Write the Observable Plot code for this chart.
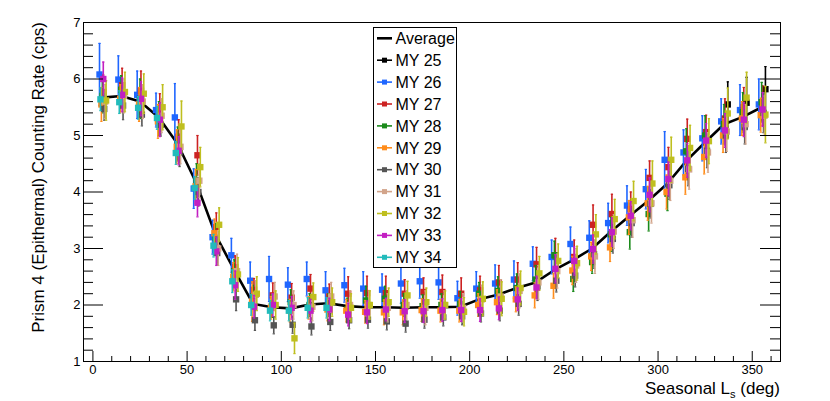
<!DOCTYPE html>
<html><head><meta charset="utf-8">
<script src="https://cdn.jsdelivr.net/npm/d3@7"></script>
<script src="https://cdn.jsdelivr.net/npm/@observablehq/plot@0.6"></script>
<style>body{margin:0;background:#fff}#chart{width:830px;height:401px}</style>
</head><body><div id="chart"></div>
<script>
// ---- data ----
const bins = [5,15,25,35,45,55,65,75,85,95,105,115,125,135,145,155,165,175,185,195,205,215,225,235,245,255,265,275,285,295,305,315,325,335,345,355];
const average = [5.67,5.70,5.60,5.32,4.85,4.15,3.25,2.62,2.02,1.96,1.94,2.01,2.03,1.98,1.96,1.96,1.95,1.96,1.96,1.97,2.10,2.18,2.30,2.40,2.62,2.80,3.00,3.30,3.58,3.85,4.15,4.55,4.88,5.20,5.33,5.50];
const seriesNames = ["MY 25","MY 26","MY 27","MY 28","MY 29","MY 30","MY 31","MY 32","MY 33","MY 34"];
const seriesColors = ["#000000","#1f66ff","#cc2222","#1b8a1b","#ff8c1a","#555555","#d2a48a","#bfbf1f","#c21fc2","#22bbbb"];
const lsOffset = [2,-1.5,0.5,0,-0.5,1,1.5,2,0.5,-1];
const N = null;
const my25 = [N,N,N,N,N,N,N,N,N,N,N,N,N,N,N,N,N,N,N,N,N,N,N,N,N,N,N,N,N,N,N,N,N,5.55,5.58,5.82];
const my26 = [6.08,5.99,5.72,5.45,5.32,4.06,3.20,2.88,2.43,2.46,2.36,2.46,2.26,2.35,2.29,2.27,2.38,2.42,2.40,2.12,2.29,2.38,2.45,2.73,2.85,3.08,3.19,3.45,3.76,4.05,4.57,4.70,4.95,5.25,5.45,5.55];
const my27 = [5.77,5.89,5.79,5.44,4.98,4.65,3.38,2.67,2.27,2.17,2.13,2.29,2.15,2.20,2.21,2.21,2.20,2.23,2.23,2.20,2.26,2.40,2.45,2.72,2.88,2.85,3.42,3.61,3.70,4.25,4.44,4.94,5.06,5.30,5.50,5.53];
const my28 = [5.70,5.81,5.65,5.30,4.85,4.20,3.19,2.60,2.15,1.98,2.05,2.00,2.00,1.92,2.08,2.11,2.00,1.98,2.00,2.02,2.20,2.25,2.30,2.45,2.88,2.46,2.76,3.25,3.29,3.61,3.97,4.72,5.00,5.20,5.41,5.59];
const my29 = [5.55,5.65,5.55,5.25,4.80,4.10,3.27,2.50,2.06,1.95,1.90,1.95,1.92,1.90,1.88,1.87,1.87,1.91,1.90,1.90,2.00,2.05,2.10,2.17,2.34,2.61,2.86,3.02,3.55,3.80,4.00,4.26,4.62,5.00,5.30,5.36];
const my30 = [5.47,5.53,5.37,5.19,4.70,4.00,2.92,2.10,1.73,1.64,1.65,1.62,1.70,1.73,1.74,1.71,1.67,1.74,1.78,1.80,1.85,1.90,2.02,2.33,2.43,2.52,2.90,3.17,3.45,3.79,4.12,4.41,4.73,5.00,5.15,5.40];
const my31 = [5.60,5.70,5.60,5.35,4.80,4.20,3.00,2.60,2.18,2.15,2.00,1.97,2.15,2.00,2.00,1.95,2.00,1.95,2.00,1.95,2.10,2.15,2.25,2.40,2.60,2.70,2.86,3.30,3.50,3.80,4.20,4.40,4.70,5.07,5.20,5.35];
const my32 = [5.62,5.77,5.74,5.50,5.16,4.44,3.42,2.54,2.20,2.00,1.41,2.14,2.05,1.95,2.00,2.05,2.17,2.05,2.00,1.88,2.11,2.11,2.30,2.56,2.78,2.74,3.25,3.52,3.84,4.15,4.57,4.78,4.90,5.39,5.67,5.37];
const my33 = [6.00,5.72,5.65,5.28,4.73,3.81,2.95,2.35,1.97,2.00,1.95,1.90,1.92,1.83,1.87,1.92,1.89,1.89,1.91,1.91,1.91,1.94,2.10,2.31,2.64,2.78,2.99,3.29,3.58,3.95,4.23,4.56,4.91,5.09,5.28,5.46];
const my34 = [5.64,5.59,5.49,5.31,4.69,4.07,3.05,2.42,2.00,1.90,1.90,1.95,1.95,N,N,N,N,N,N,N,N,N,N,N,N,N,N,N,N,N,N,N,N,N,N,N];
// error bar half-widths (cps)
const err25 = [N,N,N,N,N,N,N,N,N,N,N,N,N,N,N,N,N,N,N,N,N,N,N,N,N,N,N,N,N,N,N,N,N,0.40,0.45,0.40];
const err26 = [0.55,0.42,0.42,0.30,0.60,0.35,0.30,0.30,0.33,0.40,0.30,0.30,0.33,0.30,0.30,0.28,0.35,0.30,0.30,0.30,0.30,0.33,0.33,0.30,0.30,0.30,0.30,0.35,0.35,0.35,0.50,0.40,0.40,0.40,0.45,0.45];
const err27 = [0.30,0.30,0.35,0.30,0.30,0.35,0.25,0.20,0.20,0.22,0.25,0.25,0.22,0.30,0.30,0.30,0.25,0.25,0.30,0.28,0.25,0.30,0.30,0.30,0.30,0.30,0.35,0.35,0.30,0.30,0.35,0.35,0.30,0.35,0.35,0.35];
const err28 = [0.30,0.25,0.35,0.30,0.30,0.30,0.25,0.20,0.20,0.20,0.22,0.20,0.20,0.20,0.25,0.22,0.20,0.20,0.20,0.22,0.20,0.25,0.25,0.25,0.25,0.22,0.20,0.30,0.30,0.30,0.30,0.40,0.35,0.35,0.35,0.35];
const err29 = [0.30,0.25,0.30,0.30,0.30,0.30,0.25,0.25,0.35,0.20,0.20,0.20,0.20,0.20,0.20,0.22,0.22,0.20,0.20,0.20,0.20,0.22,0.22,0.22,0.22,0.25,0.25,0.25,0.30,0.30,0.30,0.30,0.30,0.30,0.30,0.30];
const err30 = [0.20,0.25,0.20,0.20,0.25,0.25,0.20,0.20,0.18,0.15,0.15,0.15,0.15,0.15,0.15,0.15,0.15,0.15,0.15,0.15,0.15,0.18,0.20,0.25,0.20,0.20,0.25,0.25,0.25,0.25,0.25,0.30,0.30,0.30,0.30,0.35];
const err31 = [0.30,0.30,0.30,0.30,0.30,0.30,0.30,0.30,0.25,0.25,0.25,0.25,0.25,0.25,0.25,0.25,0.25,0.30,0.25,0.25,0.25,0.30,0.30,0.30,0.30,0.30,0.30,0.30,0.30,0.35,0.35,0.35,0.35,0.35,0.35,0.35];
const err32 = [0.35,0.35,0.35,0.40,0.45,0.35,0.30,0.30,0.30,0.25,0.27,0.25,0.25,0.25,0.25,0.25,0.25,0.25,0.25,0.25,0.30,0.30,0.30,0.30,0.30,0.30,0.35,0.35,0.35,0.40,0.40,0.40,0.40,0.45,0.45,0.50];
const err33 = [0.30,0.30,0.30,0.30,0.25,0.25,0.25,0.25,0.20,0.20,0.20,0.20,0.20,0.20,0.20,0.20,0.20,0.20,0.20,0.20,0.20,0.20,0.20,0.20,0.25,0.25,0.25,0.25,0.25,0.30,0.30,0.30,0.30,0.30,0.30,0.30];
const err34 = [0.20,0.20,0.20,0.20,0.20,0.20,0.20,0.20,0.18,0.18,0.18,0.18,0.18,N,N,N,N,N,N,N,N,N,N,N,N,N,N,N,N,N,N,N,N,N,N,N];
const xTicks = [0,50,100,150,200,250,300,350];
const yTicks = [1,2,3,4,5,6,7];

// ---- build rows ----
const values = [my25,my26,my27,my28,my29,my30,my31,my32,my33,my34];
const errors = [err25,err26,err27,err28,err29,err30,err31,err32,err33,err34];
const avgRows = bins.map((b,i) => ({ls:b, v:average[i]}));
const seriesRows = values.map((arr,si) => arr.map((v,j) => v == null ? null :
  ({series: seriesNames[si], ls: bins[j] + lsOffset[si], v, e: errors[si][j]})).filter(d => d));

const W = 830, H = 401, mL = 83, mR = 50, mT = 22, mB = 40;
const pw = W - mL - mR, ph = H - mT - mB;
const FONT = "'Liberation Sans', Arial, Helvetica, sans-serif";
const cap = {draw(ctx, size){ const r = Math.sqrt(size)/2; ctx.moveTo(-r,0); ctx.lineTo(r,0); }};
const xMinor = d3.range(0, 370, 10).filter(v => v % 50 !== 0);
const yMinor = d3.range(1.2, 7, 0.2).map(v => +v.toFixed(1)).filter(v => Math.abs(v - Math.round(v)) > 1e-6);

const marks = [Plot.line(avgRows, {x:"ls", y:"v", stroke:"black", strokeWidth:2.6})];
seriesRows.forEach((rows, si) => {
  const c = seriesColors[si];
  marks.push(
    Plot.ruleX(rows, {x:"ls", y1: d => d.v - d.e, y2: d => d.v + d.e, stroke: c, strokeWidth: 1.6}),
    Plot.dot(rows, {x:"ls", y: d => d.v + d.e, symbol: cap, r: 1.3, stroke: c, strokeWidth: 1.2}),
    Plot.dot(rows, {x:"ls", y: d => d.v - d.e, symbol: cap, r: 1.3, stroke: c, strokeWidth: 1.2}),
    Plot.dot(rows, {x:"ls", y:"v", symbol:"square", r: 3.6, fill: c, stroke: "none"})
  );
});
marks.push(
  Plot.tickY(yTicks, {y: d => d, insetRight: pw - 20, stroke:"black"}),
  Plot.tickY(yMinor, {y: d => d, insetRight: pw - 10, stroke:"black"}),
  Plot.tickY(yTicks, {y: d => d, insetLeft: pw - 20, stroke:"black"}),
  Plot.tickY(yMinor, {y: d => d, insetLeft: pw - 10, stroke:"black"}),
  Plot.tickX(xTicks, {x: d => d, insetTop: ph - 10, stroke:"black"}),
  Plot.tickX(xMinor, {x: d => d, insetTop: ph - 5, stroke:"black"}),
  Plot.frame({stroke:"black", strokeWidth: 1}),
  Plot.axisY(yTicks, {tickSize: 0, tickPadding: 3, fontSize: 13, label: null, fill: "black", tickFormat: d => String(d)}),
  Plot.axisX(xTicks, {tickSize: 0, tickPadding: 3, fontSize: 13, label: null, fill: "black", tickFormat: d => String(d)})
);

const plot = Plot.plot({
  width: W, height: H, marginLeft: mL, marginRight: mR, marginTop: mT, marginBottom: mB,
  x: {domain: [-5, 365]},
  y: {domain: [1, 7]},
  style: {fontFamily: FONT, fontSize: "13px", background: "white", color: "black"},
  marks
});
document.getElementById("chart").appendChild(plot);

// ---- axis titles and legend ----
const svg = d3.select(plot);
const xt = svg.append("text").attr("x", W - mR).attr("y", 394).attr("text-anchor", "end")
  .attr("font-family", FONT).attr("font-size", 17).attr("fill", "black");
xt.append("tspan").text("Seasonal L");
xt.append("tspan").attr("font-size", 11).attr("dy", 4).text("s");
xt.append("tspan").attr("dy", -4).text(" (deg)");
svg.append("text").attr("transform", `translate(43.5,${mT}) rotate(-90)`).attr("text-anchor", "end")
  .attr("font-family", FONT).attr("font-size", 17).attr("fill", "black")
  .text("Prism 4 (Epithermal) Counting Rate (cps)");

const lg = svg.append("g").attr("font-family", FONT).attr("font-size", 16).attr("text-anchor", "start");
lg.append("rect").attr("x", 373.5).attr("y", 27.5).attr("width", 83).attr("height", 240)
  .attr("fill", "white").attr("stroke", "black").attr("stroke-width", 1);
const entries = [{name:"Average", color:"black", avg:true}].concat(seriesNames.map((n,i) => ({name:n, color:seriesColors[i]})));
entries.forEach((en, i) => {
  const y = 38.3 + i * 21.9;
  lg.append("line").attr("x1", 377).attr("x2", 392).attr("y1", y).attr("y2", y)
    .attr("stroke", en.color).attr("stroke-width", en.avg ? 2.6 : 1.6);
  if (!en.avg) lg.append("rect").attr("x", 382).attr("y", y - 2.5).attr("width", 5).attr("height", 5).attr("fill", en.color);
  lg.append("text").attr("x", 395.5).attr("y", y).attr("dy", "0.36em").attr("text-anchor", "start").attr("fill", "black").text(en.name);
});
</script>
</body></html>
